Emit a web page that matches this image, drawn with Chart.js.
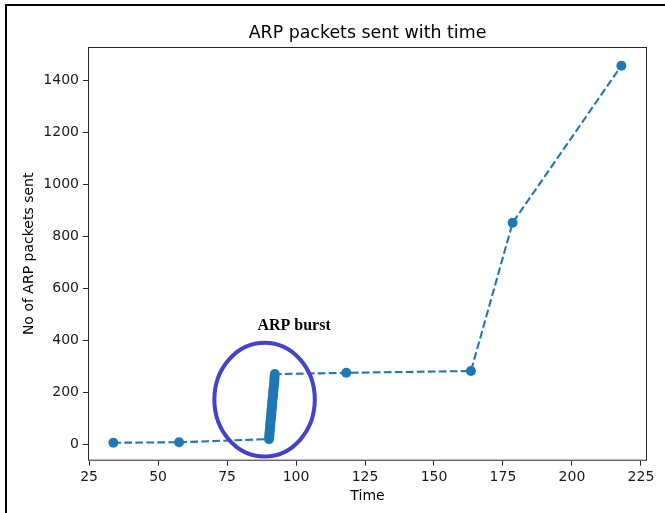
<!DOCTYPE html>
<html>
<head>
<meta charset="utf-8">
<script src="https://cdn.jsdelivr.net/npm/chart.js@4.4.1/dist/chart.umd.min.js"></script>
<style>
    html, body { margin: 0; padding: 0; background: #fff; }
    #wrap { position: relative; width: 665px; height: 513px; overflow: hidden; }
    #frame {
        position: absolute; left: 5px; top: 4px; width: 700px; height: 600px;
        border-left: 2px solid #000; border-top: 2px solid #000; pointer-events: none;
    }
    canvas { position: absolute; left: 0; top: 0; }
</style>
</head>
<body>
<div id="wrap">
    <canvas id="arpChart" width="665" height="513"></canvas>
    <div id="frame"></div>
</div>
<script>
// capture times (s) and cumulative ARP packet count
const times = [
    33.8, 57.6,
    90.2, 90.3, 90.35, 90.4, 90.5, 90.6, 90.65, 90.7, 90.8, 90.9, 91.0, 91.05,
    91.1, 91.2, 91.3, 91.35, 91.4, 91.5, 91.6, 91.7, 91.75, 91.8, 91.9, 92.0,
    92.1, 92.15, 92.2, 92.3,
    118.2, 163.4, 178.5, 217.9,
];
const packets = [
    5, 7,
    19, 28, 37, 46, 55, 64, 73, 82, 91, 100, 110, 119,
    128, 137, 146, 155, 164, 173, 182, 191, 200, 209, 218, 227,
    237, 248, 258, 269,
    274, 281, 851, 1455,
];

const xTicks = [25, 50, 75, 100, 125, 150, 175, 200, 225];
const yTicks = [0, 200, 400, 600, 800, 1000, 1200, 1400];

const chartTitle = "ARP packets sent with time";
const burstLabel = "ARP burst";

// annotation placement in data units
const burstMark = { cx: 88.6, cy: 171, rx: 18.2, ry: 219, textX: 99.3, textY: 456 };

const blue = "#1f77b4";
const spine = "#262626";

Chart.defaults.font.family = "'DejaVu Sans', sans-serif";
Chart.defaults.color = "#1a1a1a";

const annotate = {
    id: "arpAnnotate",
    afterDatasetsDraw(chart) {
        const { ctx, chartArea: a, scales: { x, y } } = chart;
        ctx.save();

        // box around the plot
        ctx.strokeStyle = spine;
        ctx.lineWidth = 1;
        ctx.strokeRect(a.left + 0.5, a.top + 0.5, a.width - 1, a.height - 1);

        // title centred over the plot area
        ctx.font = "17.4px 'DejaVu Sans', sans-serif";
        ctx.fillStyle = "#000";
        ctx.textAlign = "center";
        ctx.textBaseline = "middle";
        ctx.fillText(chartTitle, (a.left + a.right) / 2, 33);

        // circle round the burst
        const cx = x.getPixelForValue(burstMark.cx);
        const cy = y.getPixelForValue(burstMark.cy);
        const rx = Math.abs(x.getPixelForValue(burstMark.cx + burstMark.rx) - cx);
        const ry = Math.abs(y.getPixelForValue(burstMark.cy + burstMark.ry) - cy);
        ctx.beginPath();
        ctx.ellipse(cx, cy, rx, ry, 0, 0, Math.PI * 2);
        ctx.strokeStyle = "rgb(66, 66, 204)";
        ctx.lineWidth = 4;
        ctx.stroke();

        ctx.font = "bold 16px 'Liberation Serif', serif";
        ctx.fillText(burstLabel, x.getPixelForValue(burstMark.textX), y.getPixelForValue(burstMark.textY));

        ctx.restore();
    },
};

const tickGrid = {
    display: true,
    drawOnChartArea: false,
    drawTicks: true,
    tickLength: 5,
    tickColor: spine,
    tickWidth: 1,
};

new Chart(document.getElementById("arpChart"), {
    type: "line",
    data: {
        datasets: [{
            data: times.map((t, i) => ({ x: t, y: packets[i] })),
            borderColor: blue,
            backgroundColor: blue,
            borderWidth: 2.1,
            borderDash: [7.7, 3.3],
            pointRadius: 5,
            pointBorderWidth: 0,
            pointBackgroundColor: blue,
            tension: 0,
            fill: false,
        }],
    },
    options: {
        responsive: false,
        animation: false,
        events: [],
        layout: { padding: { left: 0, right: 18, top: 47, bottom: 0 } },
        scales: {
            x: {
                type: "linear",
                min: 24.6,
                max: 227.2,
                afterBuildTicks: (axis) => { axis.ticks = xTicks.map((v) => ({ value: v })); },
                afterFit: (axis) => { axis.height = 52.3; },
                grid: tickGrid,
                border: { display: false },
                ticks: {
                    font: { size: 14 }, padding: 3, maxRotation: 0, autoSkip: false,
                    callback: (v) => String(v),
                },
                title: { display: true, text: "Time", font: { size: 14 }, color: "#000", padding: { top: 0, bottom: 8 } },
            },
            y: {
                type: "linear",
                min: -64,
                max: 1527,
                afterBuildTicks: (axis) => { axis.ticks = yTicks.map((v) => ({ value: v })); },
                afterFit: (axis) => { axis.width = 88; },
                grid: tickGrid,
                border: { display: false },
                ticks: { font: { size: 14 }, padding: 4, callback: (v) => String(v) },
                title: { display: true, text: "No of ARP packets sent", font: { size: 14 }, color: "#000", padding: { top: 21, bottom: 0 } },
            },
        },
        plugins: {
            legend: { display: false },
            tooltip: { enabled: false },
            title: { display: false },
        },
    },
    plugins: [annotate],
});
</script>
</body>
</html>
